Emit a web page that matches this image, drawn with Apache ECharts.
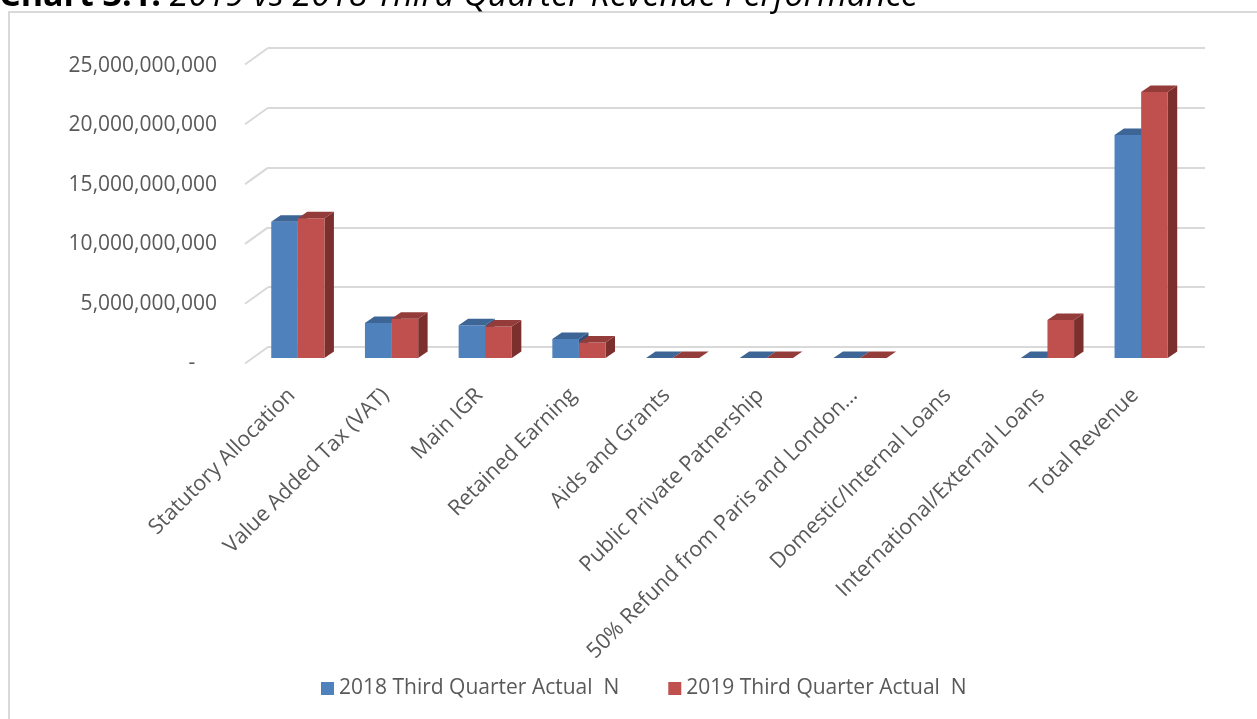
<!DOCTYPE html>
<html>
<head>
<meta charset="utf-8">
<script src="https://cdn.jsdelivr.net/npm/echarts@6/dist/echarts.min.js"></script>
<style>
  html, body { margin: 0; padding: 0; background: #ffffff; }
  #chart { width: 1257px; height: 719px; }
</style>
</head>
<body>
<div id="chart"></div>
<script>
// ---- data ----
const categories = [
  'Statutory Allocation',
  'Value Added Tax (VAT)',
  'Main IGR',
  'Retained Earning',
  'Aids and Grants',
  'Public Private Patnership',
  '50% Refund from Paris and London…',
  'Domestic/Internal Loans',
  'International/External Loans',
  'Total Revenue'
];
const seriesNames = ['2018 Third Quarter Actual  N', '2019 Third Quarter Actual  N'];
const actual2018 = [11450000000, 2950000000, 2750000000, 1600000000, 0, 0, 0, null, 0, 18750000000];
const actual2019 = [11750000000, 3300000000, 2650000000, 1300000000, 0, 0, 0, null, 3200000000, 22350000000];
const yTicks = [0, 5000000000, 10000000000, 15000000000, 20000000000, 25000000000];
const yMin = 0, yMax = 25000000000, yStep = 5000000000;

// ---- styles ----
const FONT = 'Open Sans';
const TXT = '#595959';
const GRID_C = '#D9D9D9';
const palette = [
  { front: '#4F81BD', top: '#3D6596', side: '#2F5079' },
  { front: '#C0504D', top: '#933C3A', side: '#7C302E' }
];

function fmt(v) {
  if (v === 0) return '-    ';
  return v.toLocaleString('en-US');
}

function barRenderer(idx) {
  return function (params, api) {
    const v = api.value(1);
    if (v == null || isNaN(v)) return null;
    const c = api.coord([api.value(0), v]);
    const b = api.coord([api.value(0), 0]);
    const band = api.size([1, 0])[0];
    const w = band * 0.284;
    const dx = band * 0.101, dy = -6.5;
    const x0 = idx === 0 ? c[0] - w : c[0];
    const y1 = c[1], y0 = b[1];
    const col = palette[idx];
    const children = [];
    if (y0 - y1 > 0.5) {
      children.push({
        type: 'polygon',
        shape: { points: [[x0 + w, y1], [x0 + w + dx, y1 + dy], [x0 + w + dx, y0 + dy], [x0 + w, y0]] },
        style: { fill: col.side }
      });
      children.push({
        type: 'rect',
        shape: { x: x0, y: y1, width: w, height: y0 - y1 },
        style: { fill: col.front }
      });
    }
    children.push({
      type: 'polygon',
      shape: { points: [[x0, y1], [x0 + dx, y1 + dy], [x0 + w + dx, y1 + dy], [x0 + w, y1]] },
      style: { fill: col.top }
    });
    return { type: 'group', children: children };
  };
}

const chart = echarts.init(document.getElementById('chart'), null, { renderer: 'canvas' });

const option = {
  animation: false,
  backgroundColor: '#ffffff',
  textStyle: { fontFamily: FONT },
  graphic: [
    {
      type: 'rect', silent: true, z: -10,
      shape: { x: 9, y: 12, width: 1400, height: 900 },
      style: { fill: 'none', stroke: GRID_C, lineWidth: 2 }
    },
    {
      type: 'text', silent: true,
      x: -1, y: 13.5,
      style: {
        text: '{b|Chart 3.1:} {i|2019 vs 2018 Third Quarter Revenue Performance}',
        verticalAlign: 'bottom',
        rich: {
          b: { fontFamily: FONT, fontSize: 34, fontWeight: 'bold', fill: '#000000' },
          i: { fontFamily: FONT, fontSize: 34, fontStyle: 'italic', fill: '#000000' }
        },
        fontFamily: FONT, fontSize: 34, fill: '#000000'
      }
    }
  ],
  legend: {
    data: seriesNames,
    left: 321,
    top: 678,
    padding: 0,
    itemWidth: 13,
    itemHeight: 13,
    itemGap: 49,
    icon: 'rect',
    textStyle: { fontFamily: FONT, fontSize: 21, color: TXT }
  },
  grid: [
    { left: 268, right: 52, top: 48, bottom: 372 },   // back wall
    { left: 245, right: 75, top: 66, bottom: 356 },   // front plane (labels)
    { left: 251, right: 69, top: 60.5, bottom: 361 }  // bar plane
  ],
  xAxis: [
    { gridIndex: 0, type: 'value', min: 0, max: 1, show: false },
    {
      gridIndex: 1, type: 'category', data: categories,
      axisLine: { show: false }, axisTick: { show: false },
      axisLabel: {
        interval: 0, rotate: 45, margin: 29,
        fontFamily: FONT, fontSize: 21.5, color: TXT
      }
    },
    {
      gridIndex: 2, type: 'category', data: categories,
      axisLine: { show: false }, axisTick: { show: false }, axisLabel: { show: false }
    }
  ],
  yAxis: [
    {
      gridIndex: 0, type: 'value', min: yMin, max: yMax, interval: yStep,
      axisLine: { show: false }, axisTick: { show: false }, axisLabel: { show: false },
      splitLine: { show: true, lineStyle: { color: GRID_C, width: 2 } }
    },
    {
      gridIndex: 1, type: 'value', min: yMin, max: yMax, interval: yStep,
      axisLine: { show: false }, axisTick: { show: false },
      splitLine: { show: false },
      axisLabel: {
        margin: 28, fontFamily: FONT, fontSize: 21, color: TXT,
        formatter: fmt
      }
    },
    {
      gridIndex: 2, type: 'value', min: yMin, max: yMax, interval: yStep,
      show: false, splitLine: { show: false }
    }
  ],
  series: [
    {
      type: 'custom', name: 'walls', xAxisIndex: 0, yAxisIndex: 0,
      silent: true, legendHoverLink: false,
      data: yTicks.map(v => [0, v]),
      renderItem: function (params, api) {
        const p = api.coord([0, api.value(1)]);
        return {
          type: 'line',
          shape: { x1: p[0], y1: p[1], x2: p[0] - 23, y2: p[1] + 16.5 },
          style: { stroke: GRID_C, lineWidth: 2 }
        };
      }
    },
    {
      type: 'custom', name: seriesNames[0], xAxisIndex: 2, yAxisIndex: 2,
      itemStyle: { color: palette[0].front },
      encode: { x: 0, y: 1 },
      data: actual2018.map((v, i) => [i, v]),
      renderItem: barRenderer(0)
    },
    {
      type: 'custom', name: seriesNames[1], xAxisIndex: 2, yAxisIndex: 2,
      itemStyle: { color: palette[1].front },
      encode: { x: 0, y: 1 },
      data: actual2019.map((v, i) => [i, v]),
      renderItem: barRenderer(1)
    }
  ]
};
chart.setOption(option);
</script>
</body>
</html>
